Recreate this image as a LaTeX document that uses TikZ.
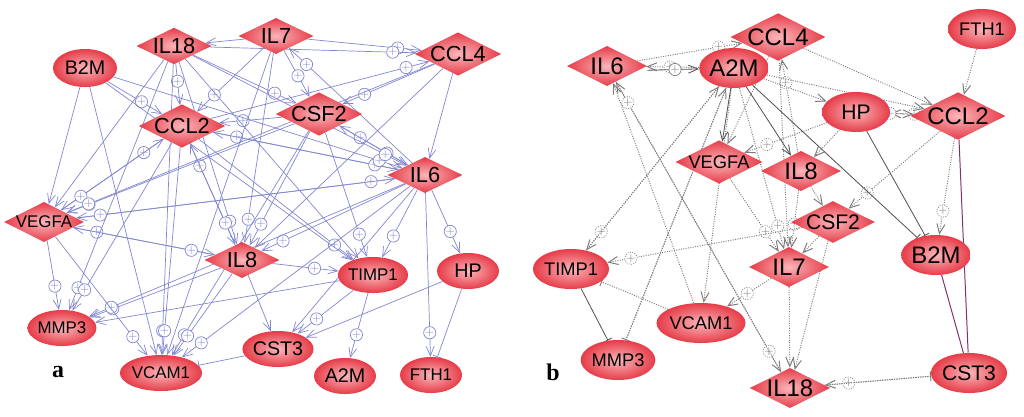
\documentclass[tikz,border=0pt]{standalone}
\usepackage{fontspec}
\setmainfont{Liberation Sans}
\newfontfamily\panelfont{Liberation Serif}
\usetikzlibrary{shapes.geometric,arrows.meta,decorations.markings,backgrounds}

\definecolor{genelo}{RGB}{230,60,72}
\definecolor{genehi}{RGB}{251,182,186}
\definecolor{edgeblue}{RGB}{130,135,208}
\definecolor{edgegray}{RGB}{125,125,125}
\definecolor{edgedark}{RGB}{85,85,85}
\definecolor{edgepurple}{RGB}{128,48,110}

\begin{document}
\begin{tikzpicture}[x=0.025cm, y=-0.025cm,  % pixel coordinates, y downwards
  gene/.style={shade, inner color=genehi, outer color=genelo, inner sep=0pt, text=black},
  ella/.style={gene, ellipse, minimum width=1.55cm, minimum height=0.9cm},
  diaa/.style={gene, diamond, aspect=2, minimum width=1.875cm, minimum height=0.9cm},
  ellb/.style={gene, ellipse, minimum width=1.7cm, minimum height=1.0cm},
  diab/.style={gene, diamond, aspect=2, minimum width=2.0cm, minimum height=1.0cm},
  fbig/.style={font=\fontsize{15.5}{15.5}\selectfont},
  fmid/.style={font=\fontsize{14}{14}\selectfont},
  fsmall/.style={font=\fontsize{12}{12}\selectfont},
  fbigb/.style={font=\fontsize{17}{17}\selectfont},
  fmidb/.style={font=\fontsize{15}{15}\selectfont},
  fsmallb/.style={font=\fontsize{13}{13}\selectfont},
  % plus markers on the edges
  plusa/.style={circle, draw=edgeblue, fill=white, line width=0.5pt, inner sep=0pt,
    minimum size=0.26cm, text=edgeblue, font=\fontsize{8}{8}\selectfont},
  plusb/.style={plusa, draw=edgegray, text=edgegray},
  pa/.style={postaction={decorate, decoration={markings,
    mark=at position -0.6cm with {\node[plusa]{$+$};}}}},
  pb/.style={postaction={decorate, decoration={markings,
    mark=at position -0.6cm with {\node[plusb]{$+$};}}}},
  % edge kinds
  ea/.style={draw=edgeblue, line width=0.5pt, -{Straight Barb[length=2.4mm,width=2mm]}},
  ia/.style={draw=edgeblue, line width=0.5pt, -{Bar[width=2.4mm]}},
  eb/.style={draw=edgegray, line width=0.7pt, densely dotted, -{Straight Barb[length=2.4mm,width=2mm]}},
  ib/.style={draw=edgegray, line width=0.7pt, densely dotted, -{Bar[width=2.4mm]}},
  sb/.style={draw=edgedark, line width=0.6pt, -{Straight Barb[length=2.4mm,width=2mm]}},
  sib/.style={draw=edgedark, line width=0.6pt, -{Bar[width=2.4mm]}},
  lb/.style={draw=edgepurple, line width=0.7pt}
]
\useasboundingbox (0,0) rectangle (1024,416);

% ---------- panel a ----------
\node[ella, minimum width=1.6cm, minimum height=0.95cm, fmid] (aB2M) at (85,68) {B2M};
\node[diaa, fbig] (aIL18) at (174,46) {IL18};
\node[diaa, fbig] (aIL7) at (276,36) {IL7};
\node[diaa, fbig] (aCCL4) at (458,54) {CCL4};
\node[diaa, fbig] (aCCL2) at (182,126) {CCL2};
\node[diaa, fbig] (aCSF2) at (319,114) {CSF2};
\node[diaa, fbig] (aIL6) at (425,175) {IL6};
\node[diaa, fsmall] (aVEGFA) at (44,222) {VEGFA};
\node[diaa, fbig] (aIL8) at (242,260) {IL8};
\node[ella, fsmall] (aTIMP1) at (373,275) {TIMP1};
\node[ella, fmid] (aHP) at (468,271) {HP};
\node[ella, fsmall] (aMMP3) at (62,328) {MMP3};
\node[ella, fsmall] (aVCAM1) at (161,373) {VCAM1};
\node[ella, fmid] (aCST3) at (278,349) {CST3};
\node[ella, fmid] (aA2M) at (345,376) {A2M};
\node[ella, fsmall] (aFTH1) at (431,375) {FTH1};
\node (labA) at (58,372) {\panelfont\bfseries\fontsize{17}{17}\selectfont a};

% ---------- panel b ----------
\node[ellb, fsmallb] (bFTH1) at (982,29) {FTH1};
\node[diab, fbigb] (bCCL4) at (778,37) {CCL4};
\node[diab, fbigb] (bIL6) at (607,66) {IL6};
\node[ellb, fbigb] (bA2M) at (734,68) {A2M};
\node[ellb, fmidb] (bHP) at (856,112) {HP};
\node[diab, fbigb] (bCCL2) at (958,116) {CCL2};
\node[diab, fsmallb] (bVEGFA) at (719,162) {VEGFA};
\node[diab, fbigb] (bIL8) at (801,171) {IL8};
\node[diab, fmidb] (bCSF2) at (833,222) {CSF2};
\node[ellb, fbigb] (bB2M) at (936,255) {B2M};
\node[ellb, fsmallb] (bTIMP1) at (571,269) {TIMP1};
\node[diab, fbigb] (bIL7) at (789,267) {IL7};
\node[ellb, fsmallb] (bVCAM1) at (701,323) {VCAM1};
\node[ellb, fsmallb] (bMMP3) at (618,360) {MMP3};
\node[diab, fbigb] (bIL18) at (790,388) {IL18};
\node[ellb, fmidb] (bCST3) at (969,373) {CST3};
\node (labB) at (553,372) {\panelfont\bfseries\fontsize{17}{17}\selectfont b};

\begin{pgfonlayer}{background}
% panel a, activations with marker
\foreach \s/\t in {IL7/CCL4, IL18/CCL4, CCL2/CCL4, IL6/IL7,
    IL7/CSF2, IL18/CSF2, CCL4/CSF2, IL6/CSF2,
    IL7/CCL2, IL18/CCL2, B2M/CCL2, CSF2/CCL2, IL6/CCL2, VEGFA/CCL2, IL8/CCL2,
    CCL2/IL6, CSF2/IL6, B2M/IL6, IL18/IL6, VEGFA/IL6,
    CCL2/VEGFA, CSF2/VEGFA, IL6/VEGFA, IL8/VEGFA, CCL4/VEGFA,
    IL18/IL8, CCL2/IL8, IL7/IL8, CSF2/IL8, IL6/IL8, VEGFA/IL8,
    IL6/TIMP1, CSF2/TIMP1, CCL2/TIMP1, IL8/TIMP1, IL6/HP,
    VEGFA/MMP3, IL18/MMP3, CCL2/MMP3, IL8/MMP3, IL6/MMP3,
    VEGFA/VCAM1, IL18/VCAM1, CCL2/VCAM1, CSF2/VCAM1, IL8/VCAM1, IL6/VCAM1,
    TIMP1/CST3, TIMP1/A2M, IL6/FTH1} {
  \draw[ea, pa] (a\s) -- (a\t);
}
% panel a, plain activations
\foreach \s/\t in {IL7/IL18, CCL4/IL6, B2M/VEGFA, B2M/VCAM1, B2M/TIMP1,
    IL18/TIMP1, IL18/VEGFA, IL7/VCAM1, IL8/CST3, HP/CST3, TIMP1/MMP3,
    IL6/CST3, CCL4/IL8} {
  \draw[ea] (a\s) -- (a\t);
}
\draw[ia] (aCST3) -- (aVCAM1);
\draw[ia] (aHP) -- (aFTH1);

% panel b, dotted with marker
\foreach \s/\t in {IL6/CCL4, A2M/IL6, CCL2/HP, HP/CCL2, CCL2/B2M, CCL2/CSF2,
    HP/VEGFA, IL8/CCL4, VEGFA/IL7, IL8/IL7, A2M/IL7, CSF2/TIMP1, IL7/VCAM1,
    IL6/IL18, CST3/IL18, A2M/TIMP1, IL18/IL6} {
  \draw[eb, pb] (b\s) -- (b\t);
}
% panel b, dotted plain
\foreach \s/\t in {A2M/HP, A2M/CCL2, CCL4/CCL2, FTH1/CCL2, HP/IL8, CCL4/VEGFA,
    CCL4/IL7, IL8/CSF2, CSF2/IL7, IL7/IL18, CSF2/IL18, A2M/VCAM1,
    TIMP1/A2M, MMP3/A2M, VCAM1/IL6} {
  \draw[eb] (b\s) -- (b\t);
}
\foreach \s/\t in {VCAM1/TIMP1, A2M/MMP3, IL18/CST3} {
  \draw[ib] (b\s) -- (b\t);
}
% solid ones
\draw[sb, pb] ([yshift=-3pt]bIL6.east) -- (bA2M);
\draw[sb] (bA2M) -- (bVEGFA);
\draw[sb] (bA2M) -- (bIL8);
\draw[sib] (bA2M) -- (bB2M);
\draw[sib] (bHP) -- (bB2M);
\draw[sib] (bTIMP1) -- (bMMP3);
\draw[lb] (bCCL2) -- (bCST3);
\draw[lb] (bB2M) -- (bCST3);
\end{pgfonlayer}

\end{tikzpicture}
\end{document}
